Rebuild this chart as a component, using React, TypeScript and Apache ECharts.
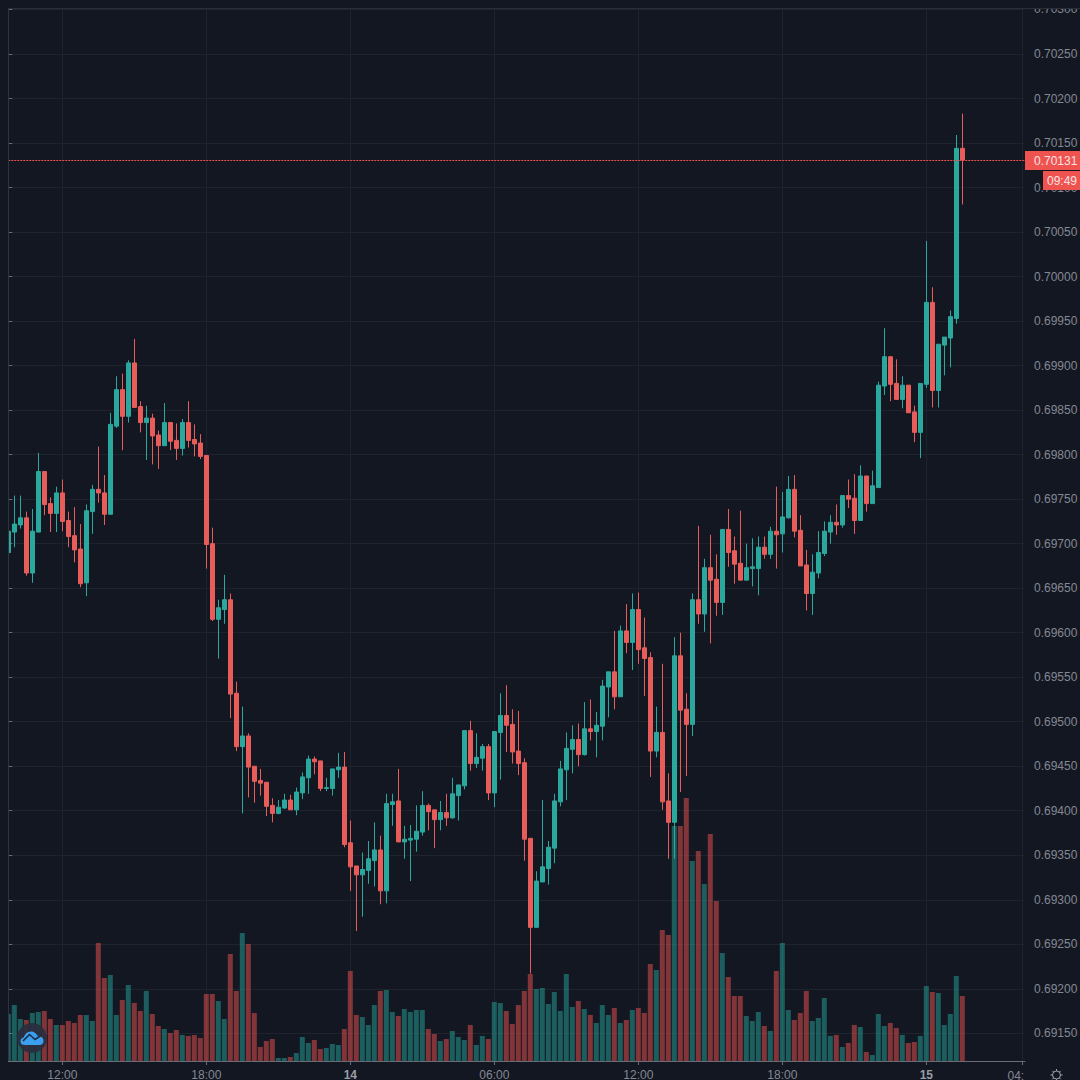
import React, { useEffect, useRef } from "react";
import * as echarts from "echarts";

// Prices in points (1 point = 0.00001)
const opens = [
  69690,69713,69721,69729,69667,69713,69781,69745,69734,69757,
  69726,69709,69694,69656,69736,69761,69757,69733,69832,69873,
  69843,69903,69854,69836,69841,69822,69810,69836,69816,69807,
  69836,69817,69813,69799,69700,69615,69626,69637,69532,69472,
  69484,69450,69434,69432,69406,69397,69403,69412,69401,69420,
  69437,69458,69456,69425,69425,69446,69449,69364,69338,69328,
  69333,69344,69356,69310,69407,69411,69365,69367,69368,69376,
  69406,69401,69390,69398,69392,69417,69428,69490,69453,69459,
  69472,69420,69488,69507,69497,69467,69454,69369,69269,69320,
  69335,69358,69410,69446,69469,69480,69463,69492,69489,69495,
  69539,69556,69528,69602,69589,69626,69583,69572,69467,69488,
  69411,69387,69574,69514,69497,69637,69621,69673,69660,69634,
  69716,69692,69678,69659,69672,69672,69696,69688,69714,69711,
  69729,69761,69715,69676,69644,69667,69689,69713,69724,69721,
  69754,69751,69726,69776,69745,69763,69877,69910,69880,69862,
  69878,69848,69825,69879,69971,69872,69923,69931,69953,70144,
];
const closes = [
  69714,69722,69729,69667,69714,69781,69744,69734,69757,69725,
  69708,69693,69655,69737,69761,69757,69733,69834,69873,69843,
  69903,69853,69836,69841,69821,69810,69836,69815,69807,69836,
  69816,69812,69798,69699,69615,69628,69637,69531,69472,69484,
  69449,69433,69431,69405,69397,69404,69412,69401,69421,69438,
  69458,69455,69425,69426,69447,69449,69362,69337,69328,69334,
  69346,69356,69310,69408,69410,69365,69368,69369,69377,69406,
  69399,69390,69398,69392,69419,69429,69490,69453,69460,69472,
  69420,69489,69507,69496,69466,69453,69368,69269,69321,69337,
  69359,69411,69447,69470,69480,69463,69492,69489,69496,69540,
  69556,69528,69602,69589,69626,69581,69571,69467,69488,69410,
  69387,69574,69513,69497,69637,69621,69673,69659,69634,69716,
  69690,69677,69659,69673,69674,69696,69688,69714,69710,69730,
  69761,69714,69675,69644,69668,69690,69714,69724,69721,69754,
  69750,69726,69776,69745,69765,69878,69910,69879,69862,69878,
  69847,69825,69880,69971,69872,69924,69932,69955,70144,70131,
];
const lows = [
  69690,69696,69717,69664,69656,69713,69732,69713,69713,69714,
  69696,69679,69651,69641,69711,69746,69721,69733,69830,69805,
  69836,69853,69825,69794,69789,69784,69810,69805,69794,69799,
  69808,69798,69795,69672,69613,69571,69610,69504,69467,69397,
  69415,69409,69417,69394,69387,69396,69402,69401,69395,69413,
  69419,69441,69422,69422,69417,69437,69359,69310,69265,69281,
  69318,69315,69295,69296,69383,69365,69346,69321,69354,69372,
  69378,69358,69378,69383,69391,69389,69424,69445,69448,69445,
  69412,69404,69435,69466,69453,69440,69344,69217,69269,69320,
  69317,69341,69405,69412,69442,69450,69462,69479,69460,69479,
  69505,69514,69528,69577,69558,69565,69529,69438,69460,69401,
  69346,69346,69421,69439,69484,69610,69601,69588,69619,69620,
  69674,69655,69659,69659,69652,69642,69683,69683,69672,69690,
  69728,69707,69675,69625,69620,69661,69686,69700,69710,69718,
  69740,69711,69726,69736,69745,69763,69867,69860,69862,69852,
  69847,69814,69796,69875,69853,69853,69889,69898,69947,70081,
];
const highs = [
  69714,69754,69754,69736,69739,69802,69781,69752,69764,69772,
  69736,69741,69722,69744,69766,69809,69777,69847,69888,69891,
  69906,69930,69860,69855,69846,69827,69858,69836,69835,69840,
  69860,69834,69823,69799,69718,69637,69665,69644,69545,69517,
  69487,69450,69447,69432,69414,69412,69419,69418,69426,69443,
  69462,69461,69456,69437,69447,69465,69466,69389,69338,69353,
  69366,69387,69372,69419,69419,69447,69383,69384,69406,69422,
  69408,69401,69411,69419,69437,69429,69490,69501,69487,69475,
  69475,69489,69532,69541,69514,69512,69459,69369,69332,69412,
  69366,69419,69456,69488,69496,69498,69522,69525,69511,69547,
  69556,69602,69608,69632,69644,69645,69617,69578,69517,69565,
  69442,69595,69600,69532,69644,69720,69683,69710,69688,69716,
  69739,69708,69737,69700,69706,69708,69708,69719,69764,69758,
  69776,69777,69732,69693,69688,69714,69725,69732,69744,69754,
  69772,69778,69788,69776,69782,69882,69942,69910,69907,69888,
  69878,69855,69880,70040,69988,69924,69932,69962,70159,70183,
];
const volumes = [
  47,56,42,41,48,49,50,42,36,36,
  40,38,46,46,40,118,83,86,46,61,
  76,58,50,70,47,35,32,28,31,26,
  25,26,23,67,67,60,42,107,70,128,
  117,48,14,20,22,3,3,4,8,24,
  18,21,12,13,17,16,32,90,46,44,
  36,56,70,71,49,45,52,49,51,51,
  32,27,20,22,30,24,21,36,16,25,
  22,59,58,50,37,56,70,87,72,73,
  57,69,50,87,54,60,52,46,38,56,
  46,53,38,41,51,53,48,97,91,131,
  126,235,235,263,200,210,177,227,160,108,
  84,65,65,45,40,49,35,30,90,118,
  51,41,48,70,40,43,63,25,26,14,
  18,36,34,9,6,47,35,38,33,26,
  18,19,25,75,69,68,36,47,85,65,
];

const yTickLabels = [
  0.703,0.7025,0.702,0.7015,0.701,0.7005,0.7,0.6995,0.699,0.6985,0.698,0.6975,
  0.697,0.6965,0.696,0.6955,0.695,0.6945,0.694,0.6935,0.693,0.6925,0.692,0.6915,
];
const xTickPositions = [9, 33, 57, 81, 105, 129, 153];
const xTickLabels = ["12:00", "18:00", "14", "06:00", "12:00", "18:00", "15"];
const lastPrice = 0.70131;

const BG = "#131722";
const GRID = "#1f232e";
const AXIS = "#6a6d78";
const TEXT = "#858892";
const UP = "#2ba89d";
const DOWN = "#e85c5a";
const TAG = "#ef5350";
const FONT = "Liberation Sans";

echarts.graphic.registerShape(
  "gearIcon",
  echarts.graphic.extendPath(
    "M7 1L7 3M7 11L7 13M1 7L3 7M11 7L13 7M2.8 2.8L4.2 4.2M9.8 9.8L11.2 11.2M2.8 11.2L4.2 9.8M9.8 4.2L11.2 2.8M11 7A4 4 0 1 1 3 7A4 4 0 1 1 11 7Z",
    {}
  ) as any
);
echarts.graphic.registerShape(
  "cloudIcon",
  echarts.graphic.extendPath(
    "M4 17C1.5 17 0 15.2 0 13.2C0 11.2 1.4 9.8 3.2 9.6C4.2 6.4 6.8 3.5 10.5 3.5C13.5 3.5 15.8 5.2 16.8 7.8C20.2 7.6 23 9.8 23 13C23 15.4 21.4 17 19 17Z",
    {}
  ) as any
);

export default function App() {
  const ref = useRef<HTMLDivElement>(null);

  useEffect(() => {
    document.body.style.margin = "0";
    document.body.style.background = BG;
    const chart = echarts.init(ref.current!, undefined, { renderer: "svg" });
    const candleData = opens.map((o, i) => [i, o / 1e5, closes[i] / 1e5, lows[i] / 1e5, highs[i] / 1e5]);
    const volumeData = volumes.map((v, i) => ({
      value: [i, v],
      itemStyle: { color: closes[i] >= opens[i] ? "rgba(38,166,154,0.5)" : "rgba(239,83,80,0.5)" },
    }));

    chart.setOption({
      animation: false,
      backgroundColor: BG,
      grid: { left: 8.3, top: 8.5, width: 1016.7, height: 1052.5, containLabel: false, outerBoundsMode: "none" },
      xAxis: {
        type: "value",
        min: 0,
        max: 1016.7 / 6,
        position: "bottom",
        axisLine: { show: true, onZero: false, lineStyle: { color: AXIS, width: 1 } },
        axisTick: { show: true, length: 4, lineStyle: { color: AXIS }, customValues: [...xTickPositions, 169] },
        splitLine: { show: true, lineStyle: { color: GRID, width: 1 } },
        axisLabel: {
          show: true,
          customValues: xTickPositions,
          margin: 8,
          fontFamily: FONT,
          fontSize: 12,
          color: TEXT,
          formatter: (v: number) => {
            const t = xTickLabels[xTickPositions.indexOf(v)] ?? "";
            return t.length === 2 ? `{b|${t}}` : t;
          },
          rich: { b: { fontFamily: FONT, fontSize: 12, fontWeight: "bold", color: "#9a9da6" } },
        },
      },
      yAxis: [
        {
          type: "value",
          min: 0.691189,
          max: 0.703011,
          position: "right",
          scale: true,
          axisLine: { show: true, lineStyle: { color: AXIS, width: 1 } },
          axisTick: { show: true, length: 4, lineStyle: { color: AXIS }, customValues: yTickLabels },
          splitLine: { show: true, lineStyle: { color: GRID, width: 1 } },
          axisLabel: {
            show: true,
            customValues: yTickLabels,
            margin: 9,
            padding: [1, 0, 0, 0],
            fontFamily: FONT,
            fontSize: 12,
            color: TEXT,
            align: "left",
            formatter: (v: number) => v.toFixed(5),
          },
        },
        {
          type: "value",
          min: 0,
          max: 1052.5,
          show: false,
          axisLine: { show: false },
          axisTick: { show: false },
          axisLabel: { show: false },
          splitLine: { show: false },
        },
      ],
      series: [
        {
          type: "bar",
          name: "Volume",
          xAxisIndex: 0,
          yAxisIndex: 1,
          barWidth: 5,
          data: volumeData,
          encode: { x: 0, y: 1 },
          z: 1,
          silent: true,
        },
        {
          type: "candlestick",
          name: "Price",
          xAxisIndex: 0,
          yAxisIndex: 0,
          barWidth: 4,
          data: candleData,
          encode: { x: 0, y: [1, 2, 3, 4] },
          z: 3,
          itemStyle: { color: UP, color0: DOWN, borderColor: UP, borderColor0: DOWN, borderWidth: 1 },
          markLine: {
            silent: true,
            symbol: "none",
            precision: 5,
            label: { show: false },
            lineStyle: { color: TAG, type: [2, 1], width: 1 },
            data: [{ yAxis: lastPrice }],
          },
        },
      ],
      graphic: {
        elements: [
          { type: "rect", z: 50, silent: true, shape: { x: 1026, y: 0, width: 54, height: 8 }, style: { fill: BG } },
          { type: "rect", z: 50, silent: true, shape: { x: 0, y: 0, width: 8, height: 1080 }, style: { fill: BG } },
          { type: "line", z: 51, silent: true, shape: { x1: 8, y1: 8.5, x2: 1080, y2: 8.5 }, style: { stroke: "#2a2e39", lineWidth: 1 } },
          { type: "line", z: 51, silent: true, shape: { x1: 8.5, y1: 8.5, x2: 8.5, y2: 1061 }, style: { stroke: "#2f333e", lineWidth: 1 } },
          { type: "text", z: 51, silent: true, x: 1007.5, y: 1076, style: { text: "04:", fill: TEXT, font: `12px "${FONT}"`, verticalAlign: "middle" } },
          { type: "rect", z: 60, silent: true, shape: { x: 1025, y: 151, width: 55, height: 19 }, style: { fill: TAG } },
          { type: "text", z: 61, silent: true, x: 1034, y: 161, style: { text: lastPrice.toFixed(5), fill: "#f7e3e3", font: `12px "${FONT}"`, verticalAlign: "middle" } },
          { type: "rect", z: 60, silent: true, shape: { x: 1043, y: 171, width: 37, height: 19 }, style: { fill: TAG } },
          { type: "text", z: 61, silent: true, x: 1047, y: 181, style: { text: "09:49", fill: "#f7e3e3", font: `12px "${FONT}"`, verticalAlign: "middle" } },
          { type: "gearIcon", z: 61, silent: true, x: 1049.5, y: 1068, style: { fill: "none", stroke: "#a0a3ac", lineWidth: 1 } },
          { type: "circle", z: 70, silent: true, shape: { cx: 32, cy: 1038, r: 15 }, style: { fill: "rgba(42,46,62,0.92)" } },
          { type: "cloudIcon", z: 71, silent: true, x: 20.5, y: 1028, style: { fill: "#3a9fef" } },
          { type: "polyline", z: 72, silent: true, shape: { points: [[23, 1041], [29.5, 1034.5], [35, 1039.5], [41, 1035.5]] }, style: { fill: "none", stroke: "#1d2a44", lineWidth: 1.6 } },
        ],
      },
    });
    return () => chart.dispose();
  }, []);

  return <div ref={ref} style={{ width: 1080, height: 1080 }} />;
}
